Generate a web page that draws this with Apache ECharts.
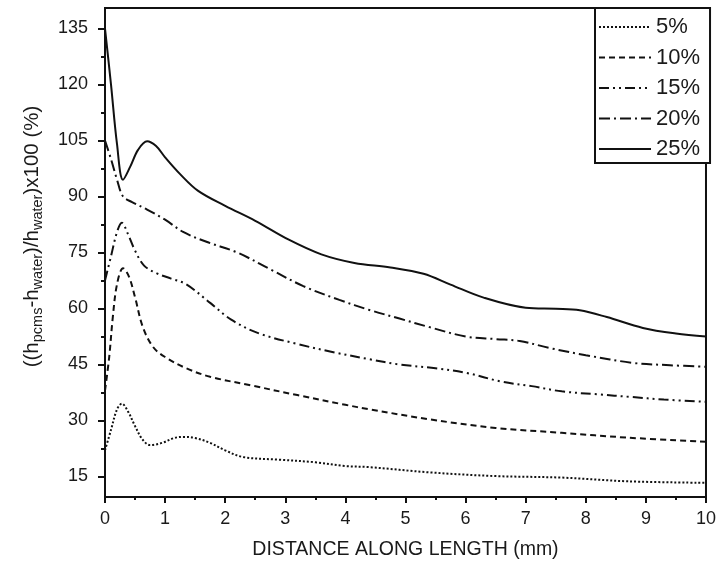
<!DOCTYPE html>
<html>
<head>
<meta charset="utf-8">
<script src="https://cdn.jsdelivr.net/npm/echarts@6/dist/echarts.min.js"></script>
<style>
  html, body { margin: 0; padding: 0; background: #fff; }
  #chart { width: 719px; height: 567px; }
</style>
</head>
<body>
<div id="chart"></div>
<script>
  // curve data, x = distance (mm), y = percent
  const seriesNames = ['5%', '10%', '15%', '20%', '25%']

  const x5 = [0, 0.1, 0.2, 0.28, 0.38, 0.5, 0.62, 0.75, 0.95, 1.15, 1.3, 1.5, 1.75, 2.0, 2.3, 2.9, 3.5, 4.0, 4.4, 5.4, 6.5, 7.6, 8.7, 10]
  const y5 = [22, 27.5, 33, 34.5, 32.5, 28.5, 25, 23.4, 24, 25.3, 25.6, 25.3, 24, 22, 20.2, 19.5, 18.8, 17.8, 17.5, 16.1, 15.1, 14.7, 13.7, 13.3]

  const x10 = [0, 0.07, 0.13, 0.2, 0.3, 0.4, 0.5, 0.63, 0.8, 1.0, 1.35, 1.75, 2.4, 3.2, 4.0, 4.4, 5.4, 6.5, 7.6, 8.7, 10]
  const y10 = [38, 47, 57.7, 66.5, 70.8, 68.5, 63, 55, 49.7, 47, 44, 41.7, 39.5, 36.8, 34.2, 33, 30.3, 28, 26.7, 25.4, 24.3]

  const x15 = [0, 0.1, 0.2, 0.28, 0.38, 0.5, 0.65, 0.85, 1.1, 1.35, 1.75, 2.1, 2.55, 3.2, 3.8, 4.4, 4.9, 5.5, 6.0, 6.6, 7.1, 7.6, 8.2, 8.75, 9.3, 10]
  const y15 = [67.5, 74, 80.5, 83, 80, 75.5, 71.5, 69.5, 68, 66.5, 61.5, 57, 53.4, 50.5, 48.3, 46.4, 45, 44, 42.8, 40.4, 39.2, 37.8, 37, 36.3, 35.6, 35]

  const x20 = [0, 0.1, 0.2, 0.3, 0.45, 0.7, 1.0, 1.3, 1.7, 2.2, 2.75, 3.3, 3.9, 4.4, 4.9, 5.4, 6.0, 6.5, 6.9, 7.4, 8.0, 8.8, 9.4, 10]
  const y20 = [105, 100, 94.5, 90, 88.5, 86.5, 83.8, 80.5, 77.8, 75, 70.5, 66, 62.3, 59.6, 57.3, 55, 52.5, 51.8, 51.3, 49.4, 47.5, 45.4, 44.8, 44.4]

  const x25 = [0, 0.1, 0.2, 0.3, 0.42, 0.55, 0.7, 0.85, 1.0, 1.25, 1.55, 2.0, 2.5, 3.05, 3.6, 4.15, 4.75, 5.3, 5.75, 6.3, 7.0, 7.5, 7.9, 8.35, 8.95, 9.5, 10]
  const y25 = [135, 120, 104, 94.5, 98, 102.5, 104.8, 103.5, 100.5, 96, 91.5, 87.5, 83.5, 78.5, 74.5, 72.2, 71.0, 69.3, 66.4, 62.9, 60.2, 59.9, 59.5, 57.7, 54.8, 53.3, 52.5]

  const yTicks = [15, 30, 45, 60, 75, 90, 105, 120, 135]
  const yMinorTicks = [22.5, 37.5, 52.5, 67.5, 82.5, 97.5, 112.5, 127.5]

  const font = '"Liberation Sans", Arial, sans-serif'
  const ink = '#111'
  const textInk = '#1a1a1a'

  const lineTypes = [
    [2, 2],
    [6, 4],
    [10, 4, 2, 4, 2, 4],
    [11, 4, 2, 4],
    'solid'
  ]

  function pairs(xs, ys) {
    return xs.map((x, i) => [x, ys[i]])
  }

  const curves = [pairs(x5, y5), pairs(x10, y10), pairs(x15, y15), pairs(x20, y20), pairs(x25, y25)]

  const chart = echarts.init(document.getElementById('chart'))

  chart.setOption({
    animation: false,
    backgroundColor: '#fff',
    grid: {
      left: 105,
      right: 9,
      top: 8,
      bottom: 70,
      show: true,
      borderColor: ink,
      borderWidth: 2,
      backgroundColor: 'transparent'
    },
    legend: {
      left: 595,
      top: 8,
      orient: 'vertical',
      data: seriesNames,
      itemWidth: 52,
      itemHeight: 14,
      itemGap: 8.5,
      padding: [8, 10, 3, 3],
      borderColor: ink,
      borderWidth: 2,
      backgroundColor: '#fff',
      itemStyle: { opacity: 0 },
      textStyle: {
        fontFamily: font,
        fontSize: 22,
        lineHeight: 21,
        color: textInk
      }
    },
    xAxis: {
      type: 'value',
      min: 0,
      max: 10,
      interval: 1,
      name: 'DISTANCE ALONG LENGTH (mm)',
      nameLocation: 'middle',
      nameGap: 43,
      nameTextStyle: { fontFamily: font, fontSize: 19.5, color: textInk },
      axisLine: { lineStyle: { color: ink, width: 2 } },
      axisTick: { length: 6, lineStyle: { color: ink, width: 2 } },
      minorTick: { show: true, splitNumber: 2, length: 3, lineStyle: { color: ink, width: 2 } },
      axisLabel: { fontFamily: font, fontSize: 18, color: textInk, margin: 13 },
      splitLine: { show: false }
    },
    yAxis: [
      {
        type: 'value',
        min: 9.5,
        max: 140.5,
        name: '{a|((h}{b|pcms}{a|-h}{b|water}{a|)/h}{b|water}{a|)x100 (%)}',
        nameLocation: 'middle',
        nameGap: 60,
        nameTextStyle: {
          padding: [0, 0, 0, 32],
          rich: {
            a: { fontFamily: font, fontSize: 20.5, color: textInk, lineHeight: 26 },
            b: { fontFamily: font, fontSize: 14.5, color: textInk, lineHeight: 16, verticalAlign: 'bottom' }
          }
        },
        axisLine: { show: true, lineStyle: { color: ink, width: 2 } },
        axisTick: { customValues: yTicks, length: 7, lineStyle: { color: ink, width: 2 } },
        axisLabel: { customValues: yTicks, fontFamily: font, fontSize: 18, color: textInk, margin: 17 },
        splitLine: { show: false }
      },
      {
        type: 'value',
        min: 9.5,
        max: 140.5,
        position: 'left',
        axisLine: { show: false },
        axisTick: { show: true, customValues: yMinorTicks, length: 4, lineStyle: { color: ink, width: 2 } },
        axisLabel: { show: false },
        splitLine: { show: false }
      }
    ],
    series: curves.map((data, i) => ({
      name: seriesNames[i],
      type: 'line',
      data: data,
      smooth: 0.35,
      showSymbol: false,
      symbol: 'none',
      lineStyle: { color: ink, width: 2, type: lineTypes[i] },
      itemStyle: { color: ink }
    }))
  })
</script>
</body>
</html>
